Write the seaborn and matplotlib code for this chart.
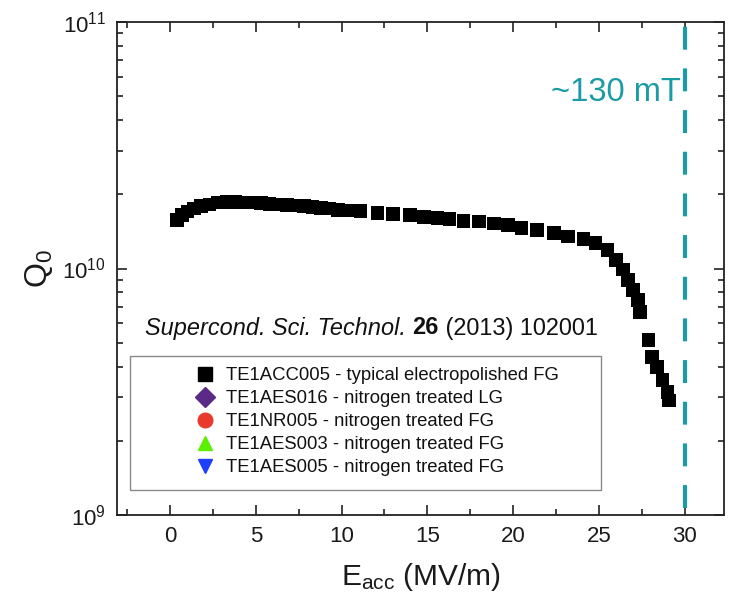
import numpy as np
import pandas as pd
import matplotlib
matplotlib.use("Agg")
import matplotlib.pyplot as plt
import seaborn as sns
from matplotlib.lines import Line2D
from matplotlib.patches import Rectangle
from matplotlib.offsetbox import TextArea, HPacker, AnnotationBbox
from matplotlib.ticker import MultipleLocator, LogLocator, NullFormatter

# ---- data ----
E_acc = [0.4, 0.7, 1.0, 1.4, 1.8, 2.3, 2.8, 3.3, 3.8, 4.3, 4.8, 5.3, 5.8, 6.3,
         6.8, 7.3, 7.8, 8.3, 8.8, 9.3, 9.8, 10.3, 11.1, 12.1, 13.0, 14.0, 14.8,
         15.6, 16.3, 17.1, 18.0, 18.9, 19.7, 20.5, 21.4, 22.4, 23.2, 24.1, 24.8,
         25.5, 26.0, 26.4, 26.7, 27.0, 27.3, 27.4, 27.9, 28.1, 28.4, 28.7, 29.0, 29.1]
Q0 = [1.57e10, 1.65e10, 1.70e10, 1.75e10, 1.79e10, 1.82e10, 1.85e10, 1.86e10,
      1.86e10, 1.85e10, 1.85e10, 1.84e10, 1.83e10, 1.82e10, 1.81e10, 1.80e10,
      1.79e10, 1.78e10, 1.76e10, 1.75e10, 1.73e10, 1.72e10, 1.71e10, 1.68e10,
      1.66e10, 1.65e10, 1.62e10, 1.60e10, 1.59e10, 1.56e10, 1.55e10, 1.52e10,
      1.50e10, 1.46e10, 1.43e10, 1.39e10, 1.35e10, 1.32e10, 1.27e10, 1.19e10,
      1.08e10, 0.99e10, 0.90e10, 0.82e10, 0.745e10, 0.667e10, 0.513e10,
      0.438e10, 0.398e10, 0.353e10, 0.315e10, 0.292e10]

series_labels = ["TE1ACC005 - typical electropolished FG",
                 "TE1AES016 - nitrogen treated LG",
                 "TE1NR005 - nitrogen treated FG",
                 "TE1AES003 - nitrogen treated FG",
                 "TE1AES005 - nitrogen treated FG"]
series_markers = ["s", "D", "o", "^", "v"]
series_colors = ["#000000", "#5b2a86", "#e8392c", "#5cf000", "#1f3fff"]

quench_field = 30
quench_label = "~130 mT"
x_ticks = [0, 5, 10, 15, 20, 25, 30]
citation = ["Supercond. Sci. Technol. ", "26", " (2013) 102001"]

df = pd.DataFrame({"E": E_acc, "Q": Q0})

# ---- style ----
sns.set_theme(style="ticks")
plt.rcParams["font.family"] = ["Liberation Sans", "DejaVu Sans"]
plt.rcParams["mathtext.fontset"] = "custom"
plt.rcParams["mathtext.rm"] = "Liberation Sans"
plt.rcParams["mathtext.it"] = "Liberation Sans:italic"
plt.rcParams["mathtext.bf"] = "Liberation Sans:bold"

W, H = 729, 601
fig = plt.figure(figsize=(W / 100, H / 100), dpi=100)
ax = fig.add_axes([117 / W, 1 - 515 / H, (724 - 117) / W, (515 - 22) / H])

sns.scatterplot(data=df, x="E", y="Q", marker="s", s=95, color="black",
                edgecolor="none", linewidth=0, ax=ax, legend=False, zorder=3)

ax.set_yscale("log")
ax.set_ylim(1e9, 1e11)
ax.set_xlim(-3.1, 32.3)
ax.set_xticks(x_ticks)
ax.xaxis.set_minor_locator(MultipleLocator(2.5))
ax.yaxis.set_major_locator(LogLocator(base=10, numticks=5))
ax.yaxis.set_minor_locator(LogLocator(base=10, subs=np.arange(2, 10), numticks=20))
ax.yaxis.set_minor_formatter(NullFormatter())

for s in ax.spines.values():
    s.set_linewidth(1.3)
    s.set_color("#222222")
ax.tick_params(which="both", direction="in", top=True, right=True,
               color="#222222", width=1.2)
ax.tick_params(which="major", length=7, labelsize=16, pad=8, labelcolor="#1a1a1a")
ax.tick_params(which="minor", length=4)

ax.set_xlabel(r"$\mathrm{E_{acc}}$ (MV/m)", fontsize=21.5, labelpad=10, color="#1a1a1a")
ax.set_ylabel(r"$\mathrm{Q_0}$", fontsize=23, labelpad=5, color="#1a1a1a")

# quench line
teal = "#1a9ba6"
ax.axvline(quench_field, color=teal, lw=3, dashes=(5.5, 4.5), zorder=4,
           ymin=0.015, ymax=1.0)
ax.text(quench_field - 0.2, 5.2e10, quench_label, color=teal, fontsize=23.5,
        ha="right", va="center")

# citation
parts = [TextArea(citation[0], textprops=dict(style="italic", size=16.9, color="#111111")),
         TextArea(citation[1], textprops=dict(weight="bold", size=16.9, color="#111111")),
         TextArea(citation[2], textprops=dict(size=16.9, color="#111111"))]
box = HPacker(children=parts, align="baseline", pad=0, sep=0)
ab = AnnotationBbox(box, (145 / W, 1 - 328 / H), xycoords="figure fraction",
                    box_alignment=(0, 0.5), frameon=False, pad=0)
fig.add_artist(ab)

# legend frame + legend
fig.add_artist(Rectangle((130 / W, 1 - 490 / H), (601 - 130) / W, (490 - 356) / H,
                         transform=fig.transFigure, facecolor="white",
                         edgecolor="#8a8a8a", lw=1.0, zorder=2))
handles = [Line2D([], [], marker=m, color=c, linestyle="none",
                  markersize=(9.5 if m == "s" else 10.5))
           for m, c in zip(series_markers, series_colors)]
leg = fig.legend(handles, series_labels, loc="upper left",
                 bbox_to_anchor=(196 / W, 1 - 367 / H), frameon=False,
                 fontsize=13.3, handlelength=1.0, handletextpad=0.65,
                 labelspacing=0.33, borderpad=0, borderaxespad=0)
leg.set_zorder(5)
for t in leg.get_texts():
    t.set_color("#111111")

fig.savefig("out.png", dpi=100)
